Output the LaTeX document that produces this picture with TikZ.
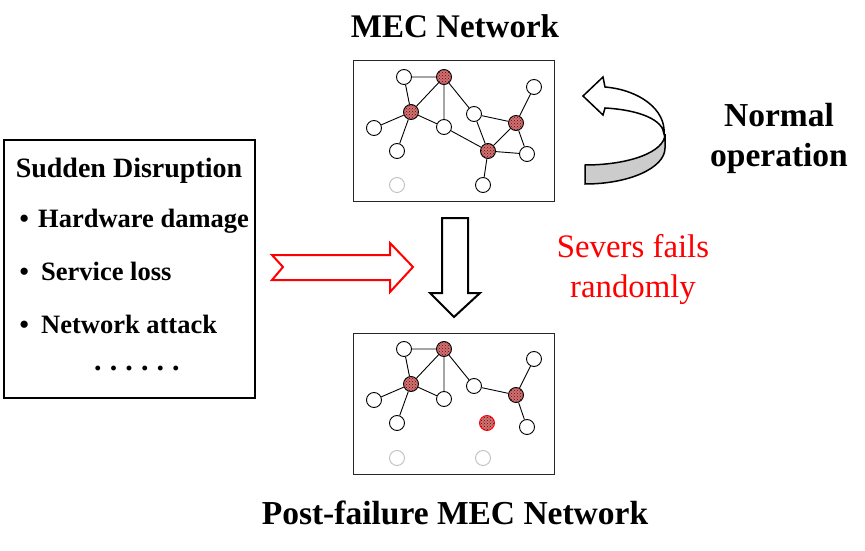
\documentclass[tikz,border=0pt]{standalone}
\usepackage{fontspec}
\setmainfont{Liberation Serif}
\usepackage{tikz}
\usetikzlibrary{patterns}
\definecolor{hubred}{RGB}{205,115,115}
\tikzstyle{server} = [circle, draw=black, fill=white, line width=0.9pt, minimum size=15pt, inner sep=0pt]
\tikzstyle{hub} = [server, preaction={fill=hubred}, pattern=crosshatch dots, pattern color=red!45!black]
\tikzstyle{idle} = [server, draw=gray!50]
\tikzstyle{failed} = [hub, draw=red]
\tikzstyle{netbox} = [rectangle, draw=black!85, line width=1.3pt, minimum width=201pt, minimum height=141pt, inner sep=0pt, anchor=north west]
\tikzstyle{heading} = [inner sep=0pt, anchor=base]
\tikzstyle{link} = [line width=0.9pt]

\begin{document}
\begin{tikzpicture}[x=1pt, y=-1pt]

        \useasboundingbox (0,0) rectangle (865,551);

        % titles
        \node (top title) [heading, font=\fontsize{33}{38}\selectfont\bfseries] at (455,38) {MEC Network};
        \node (bottom title) [heading, font=\fontsize{33.5}{38}\selectfont\bfseries] at (455,524) {Post-failure MEC Network};
        \node (normal) [heading, align=center, font=\fontsize{33.5}{40}\selectfont\bfseries] at (779,166) {Normal\\operation};
        \node (severs) [heading, align=center, text=red, font=\fontsize{32.8}{40}\selectfont] at (633,297) {Severs fails\\randomly};

        % disruption box
        \node (disruption) [rectangle, draw=black, line width=2pt, minimum width=251pt, minimum height=258pt, anchor=north west] at (3,139) {};
        \node (sudden) [heading, font=\fontsize{28}{32}\selectfont\bfseries] at (129,177) {Sudden Disruption};
        \node (hardware) [heading, anchor=base west, font=\fontsize{26.5}{30}\selectfont\bfseries] at (19.4,227) {\textbullet\hspace{9.3pt}Hardware damage};
        \node (service) [heading, anchor=base west, font=\fontsize{26.5}{30}\selectfont\bfseries] at (19.4,280) {\textbullet\hspace{12.3pt}Service loss};
        \node (attack) [heading, anchor=base west, font=\fontsize{26.5}{30}\selectfont\bfseries] at (19.4,333) {\textbullet\hspace{12.3pt}Network attack};
        \node (more) [heading, anchor=base west, font=\fontsize{30}{30}\selectfont\bfseries] at (94,370) {\spaceskip=8.1pt\xspaceskip=8.1pt . . . . . .};

        % arrows
        \draw [red, line width=2pt, fill=white] (272,255) -- (390,255) -- (390,243) -- (413,267) -- (390,292) -- (390,280) -- (272,280) -- (283,267) -- cycle;
        \draw [black, line width=2pt, fill=white] (442,218) -- (468,218) -- (468,293) -- (480,293) -- (454,317) -- (430,293) -- (442,293) -- cycle;
        \draw [black, line width=1.5pt, fill=black!20] (665,134) .. controls (665,152) and (629,165) .. (585,165) -- (585,184) .. controls (629,184) and (665,168) .. (665,148) -- cycle;
        \draw [black, line width=1.5pt, fill=white] (605,87) -- (603,77) -- (583,96) -- (603,115) -- (605,108) .. controls (640,110) and (663,120) .. (664,134) .. controls (666,110) and (640,90) .. (605,87) -- cycle;

        % network before failure
        \node (top box) [netbox] at (353,60) {};
        \node (ta) [server] at (404,77) {};
        \node (tb) [hub] at (444,77) {};
        \node (tc) [hub] at (411,112) {};
        \node (td) [server] at (374,128) {};
        \node (te) [server] at (397,151) {};
        \node (tf) [server] at (444,127) {};
        \node (tg) [server] at (474,114) {};
        \node (th) [hub] at (516,123) {};
        \node (ti) [server] at (534,87) {};
        \node (tj) [hub] at (488,151) {};
        \node (tk) [server] at (527,154) {};
        \node (tl) [server] at (483,185) {};
        \node (tm) [idle] at (397,185) {};

        \draw [link] (ta) -- (tb) -- (tc) -- (ta);
        \draw [link] (tb) -- (tf) -- (tc);
        \draw [link] (tb) -- (tg) -- (th) -- (ti);
        \draw [link] (tc) -- (td);
        \draw [link] (tc) -- (te);
        \draw [link] (tf) -- (tj) -- (tg);
        \draw [link] (th) -- (tj) -- (tk) -- (th);
        \draw [link] (tj) -- (tl);

        % network after failure
        \node (bottom box) [netbox] at (353,333) {};
        \node (ba) [server] at (404,349) {};
        \node (bb) [hub] at (444,349) {};
        \node (bc) [hub] at (411,384) {};
        \node (bd) [server] at (374,400) {};
        \node (be) [server] at (397,423) {};
        \node (bf) [server] at (444,399) {};
        \node (bg) [server] at (474,386) {};
        \node (bh) [hub] at (516,395) {};
        \node (bi) [server] at (534,359) {};
        \node (bj) [failed] at (487,423) {};
        \node (bk) [server] at (527,427) {};
        \node (bl) [idle] at (483,458) {};
        \node (bm) [idle] at (397,458) {};

        \draw [link] (ba) -- (bb) -- (bc) -- (ba);
        \draw [link] (bb) -- (bf) -- (bc);
        \draw [link] (bb) -- (bg) -- (bh) -- (bi);
        \draw [link] (bc) -- (bd);
        \draw [link] (bc) -- (be);
        \draw [link] (bh) -- (bk);

    \end{tikzpicture}
\end{document}
